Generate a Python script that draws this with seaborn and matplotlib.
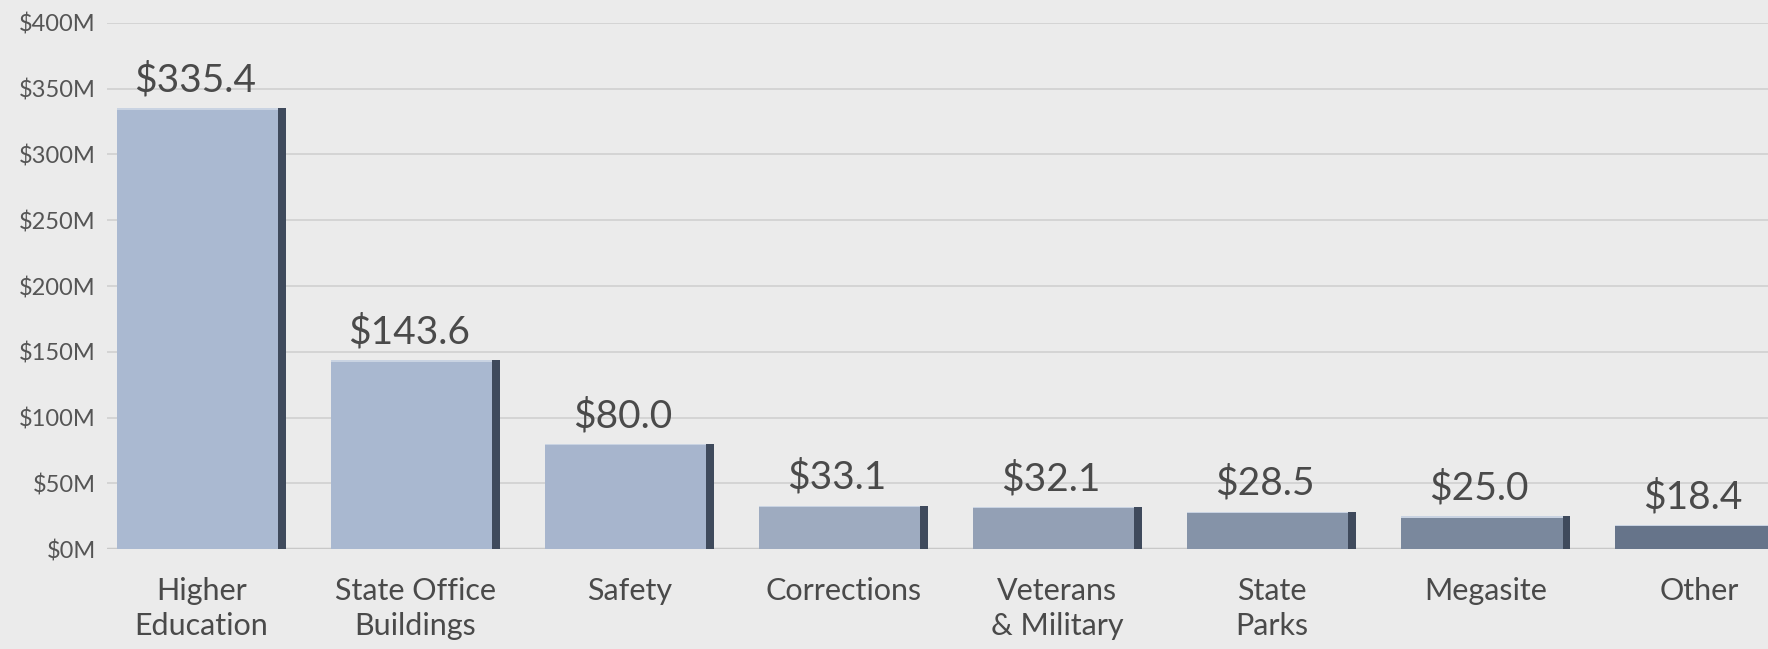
import matplotlib
matplotlib.use("Agg")
import matplotlib.pyplot as plt
from matplotlib.patches import Rectangle
import seaborn as sns
import pandas as pd

# Capital spending by category, in millions of dollars
categories = ["Higher\nEducation", "State Office\nBuildings", "Safety", "Corrections",
              "Veterans\n& Military", "State\nParks", "Megasite", "Other"]
amounts = [335.4, 143.6, 80.0, 33.1, 32.1, 28.5, 25.0, 18.4]
y_ticks = [0, 50, 100, 150, 200, 250, 300, 350, 400]
y_tick_labels = [f"${v}M" for v in y_ticks]

bar_colors = ["#aab9d1", "#a9b8d0", "#a7b5cd", "#9eabc0", "#93a0b5",
              "#8593a8", "#7a889d", "#66748a"]

sns.set_theme(style="white")
plt.rcParams["font.family"] = ["Lato", "DejaVu Sans"]

df = pd.DataFrame({"category": categories, "amount": amounts})

fig = plt.figure(figsize=(17.68, 6.49), dpi=100, facecolor="#ebebeb")
ax = fig.add_axes([0.0605, 0.154, 0.9395, 0.8106])
ax.set_facecolor("#ebebeb")

sns.barplot(data=df, x="category", y="amount", hue="category", palette=bar_colors,
            legend=False, width=0.79, saturation=1.0, edgecolor="none",
            linewidth=0, ax=ax, zorder=3)

# dark right-hand side face and a pale top edge on every bar
for patch in ax.patches[:len(amounts)]:
    x0, w, h = patch.get_x(), patch.get_width(), patch.get_height()
    ax.add_patch(Rectangle((x0 + w - 0.035, 0), 0.035, h, facecolor="#3f4a5c",
                           edgecolor="none", zorder=4))
    ax.add_patch(Rectangle((x0, h - 1.2), w - 0.035, 1.2, facecolor="#c9d3e2",
                           edgecolor="none", zorder=4))

for i, v in enumerate(amounts):
    ax.annotate(f"${v:.1f}", (i - 0.03, v), xytext=(0, 7), textcoords="offset points",
                ha="center", va="bottom", fontsize=28, color="#4a4a4a", zorder=5)

ax.set_xlim(-0.44, 7.32)
ax.set_ylim(0, 400)
ax.set_yticks(y_ticks)
ax.set_yticklabels(y_tick_labels)
ax.yaxis.grid(True, color="#d0d0d0", linewidth=1.2, zorder=0)
ax.tick_params(axis="y", labelsize=17, labelcolor="#555555", length=0, pad=8)
ax.tick_params(axis="x", labelsize=22, labelcolor="#4a4a4a", length=0, pad=20)
for lbl in ax.get_xticklabels():
    lbl.set_linespacing(1.3)
ax.set_xlabel("")
ax.set_ylabel("")
for s in ax.spines.values():
    s.set_visible(False)
ax.axhline(0, color="#c8c8c8", linewidth=2.5, zorder=2)

fig.savefig("out.png", dpi=100, facecolor=fig.get_facecolor())
